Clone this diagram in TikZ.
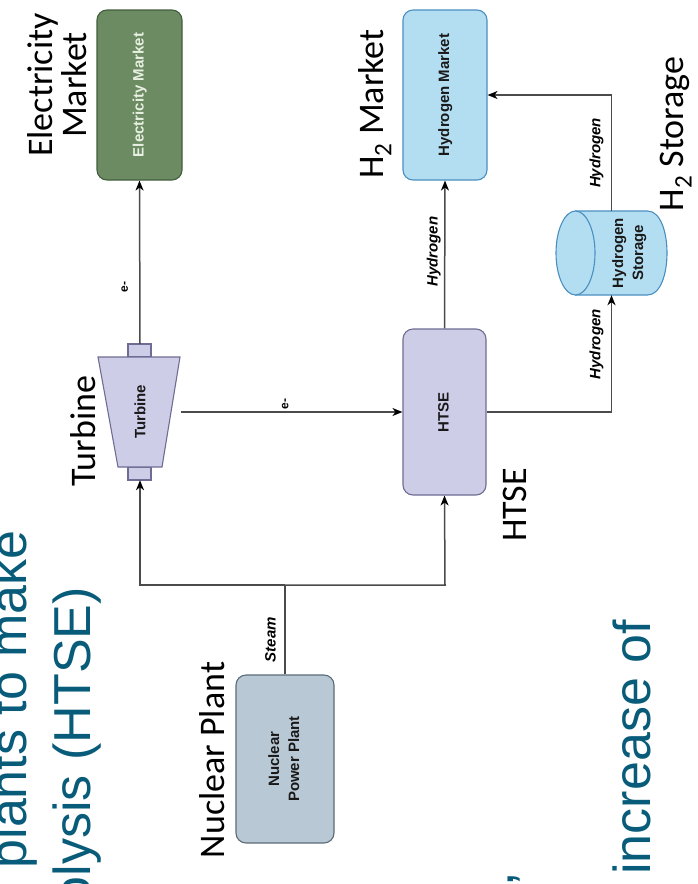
\documentclass[tikz,border=0pt]{standalone}
\usepackage{graphicx}
\usepackage{fontspec}
\setmainfont{Liberation Sans}
\newfontfamily\calib{Carlito}
\usetikzlibrary{arrows.meta}
\definecolor{teal1}{RGB}{8,92,122}
\definecolor{linec}{RGB}{75,75,75}
\definecolor{emfill}{RGB}{108,139,98}
\definecolor{emdraw}{RGB}{66,94,62}
\definecolor{emtext}{RGB}{232,240,226}
\definecolor{bluefill}{RGB}{179,222,242}
\definecolor{bluedraw}{RGB}{74,143,192}
\definecolor{lavfill}{RGB}{206,205,232}
\definecolor{lavdraw}{RGB}{110,108,146}
\definecolor{npfill}{RGB}{185,200,213}
\definecolor{npdraw}{RGB}{91,107,120}
\newcommand{\rtx}[1]{\rotatebox{90}{\begin{tabular}{@{}c@{}}#1\end{tabular}}}
\begin{document}
\begin{tikzpicture}[x=1pt,y=-1pt,
  box/.style={draw, rounded corners=10pt, line width=1.1pt, inner sep=0pt,
    font=\bfseries\fontsize{15}{20}\selectfont, text=black!90},
  conn/.style={draw=linec, line width=1.5pt},
  arr/.style={conn, -{Stealth[length=10pt,width=8pt,inset=3pt,color=black]}},
  elab/.style={rotate=90, inner sep=0pt, font=\bfseries\itshape\fontsize{15}{18}\selectfont},
  elabe/.style={rotate=90, inner sep=0pt, font=\bfseries\fontsize{12}{14}\selectfont},
  biglab/.style={rotate=90, inner sep=0pt, align=center, font=\calib\fontsize{36}{34}\selectfont},
  bluetext/.style={rotate=90, inner sep=0pt, anchor=base east, text=teal1, font=\fontsize{52}{60}\selectfont}
]
\useasboundingbox (0,0) rectangle (697,884);

% background slide text
\node[bluetext] (bt1) at (27,530) {plants to make};
\node[bluetext] (bt2) at (90,587) {olysis (HTSE)};
\node[bluetext] (bt3) at (650,620) {increase of};
\node[bluetext] (bt4) at (513,872) {,};

% boxes
\node[box, fill=emfill, draw=emdraw, text=emtext, minimum width=85pt, minimum height=170pt] (em) at (139.5,95) {\rtx{Electricity Market}};
\node[box, fill=bluefill, draw=bluedraw, minimum width=84pt, minimum height=170pt] (hm) at (445,95) {\rtx{Hydrogen Market}};
\node[box, fill=lavfill, draw=lavdraw, minimum width=83pt, minimum height=166pt] (htse) at (444.5,412) {\rtx{HTSE}};
\node[box, fill=npfill, draw=npdraw, minimum width=98pt, minimum height=168pt] (npp) at (285,759) {\rtx{Nuclear\\Power Plant}};

% turbine
\draw[fill=lavfill, draw=lavdraw, line width=1.1pt] (128,344) rectangle (151,357);
\draw[fill=lavfill, draw=lavdraw, line width=1.1pt] (128,467) rectangle (151,480);
\draw[fill=lavfill, draw=lavdraw, line width=1.1pt] (98,357) -- (180,357) -- (162,467) -- (118,467) -- cycle;
\node[inner sep=0pt, minimum width=82pt, minimum height=136pt, font=\bfseries\fontsize{15}{18}\selectfont, text=black!90] (tur) at (140,412) {\rotatebox{90}{Turbine}};

% hydrogen storage cylinder
\draw[fill=bluefill, draw=bluedraw, line width=1.1pt] (575.5,211) -- (647.5,211) .. controls (673.5,211) and (673.5,295) .. (647.5,295) -- (575.5,295) -- cycle;
\draw[fill=bluefill, draw=bluedraw, line width=1.1pt] (575.5,253) ellipse [x radius=19.5, y radius=42];
\node[inner sep=0pt, minimum width=111pt, minimum height=84pt] (stor) at (611.5,253) {};
\node[inner sep=0pt, font=\bfseries\fontsize{15}{20}\selectfont, text=black!90] (stortext) at (629,253) {\rtx{Hydrogen\\Storage}};

% junction coordinates
\coordinate (jm) at (285,585);
\coordinate (jl) at (140,585);
\coordinate (jr) at (445,585);

% connectors
\draw[arr] (tur.north) -- (em.south) node[xshift=-15pt, pos=0.35, elabe] {e-};
\draw[arr] (tur.east) -- (htse.west) node[yshift=8pt, pos=0.47, elabe] {e-};
\draw[arr] (htse.north) -- (hm.south) node[xshift=-11pt, pos=0.52, elab] {Hydrogen};
\draw[arr] (htse.east) -| (stor.south) node[xshift=-15pt, pos=0.79, elab] {Hydrogen};
\draw[arr] (stor.north) |- (hm.east) node[xshift=-15pt, pos=0.25, elab] {Hydrogen};
\draw[conn] (npp.north) -- (jm) node[xshift=-14.5pt, pos=0.39, elab] {Steam};
\draw[arr] (jm) -- (jl) -- (tur.south);
\draw[arr] (jm) -- (jr) -- (htse.south);

% big labels
\node[biglab] (lem) at (57,85) {Electricity\\Market};
\node[biglab] (lhm) at (375,104) {H\textsubscript{2} Market};
\node[biglab] (lhs) at (676,134) {H\textsubscript{2} Storage};
\node[biglab] (ltur) at (83,431) {Turbine};
\node[biglab] (lhtse) at (515,505) {HTSE};
\node[biglab] (lnp) at (212,760) {Nuclear Plant};
\end{tikzpicture}
\end{document}
